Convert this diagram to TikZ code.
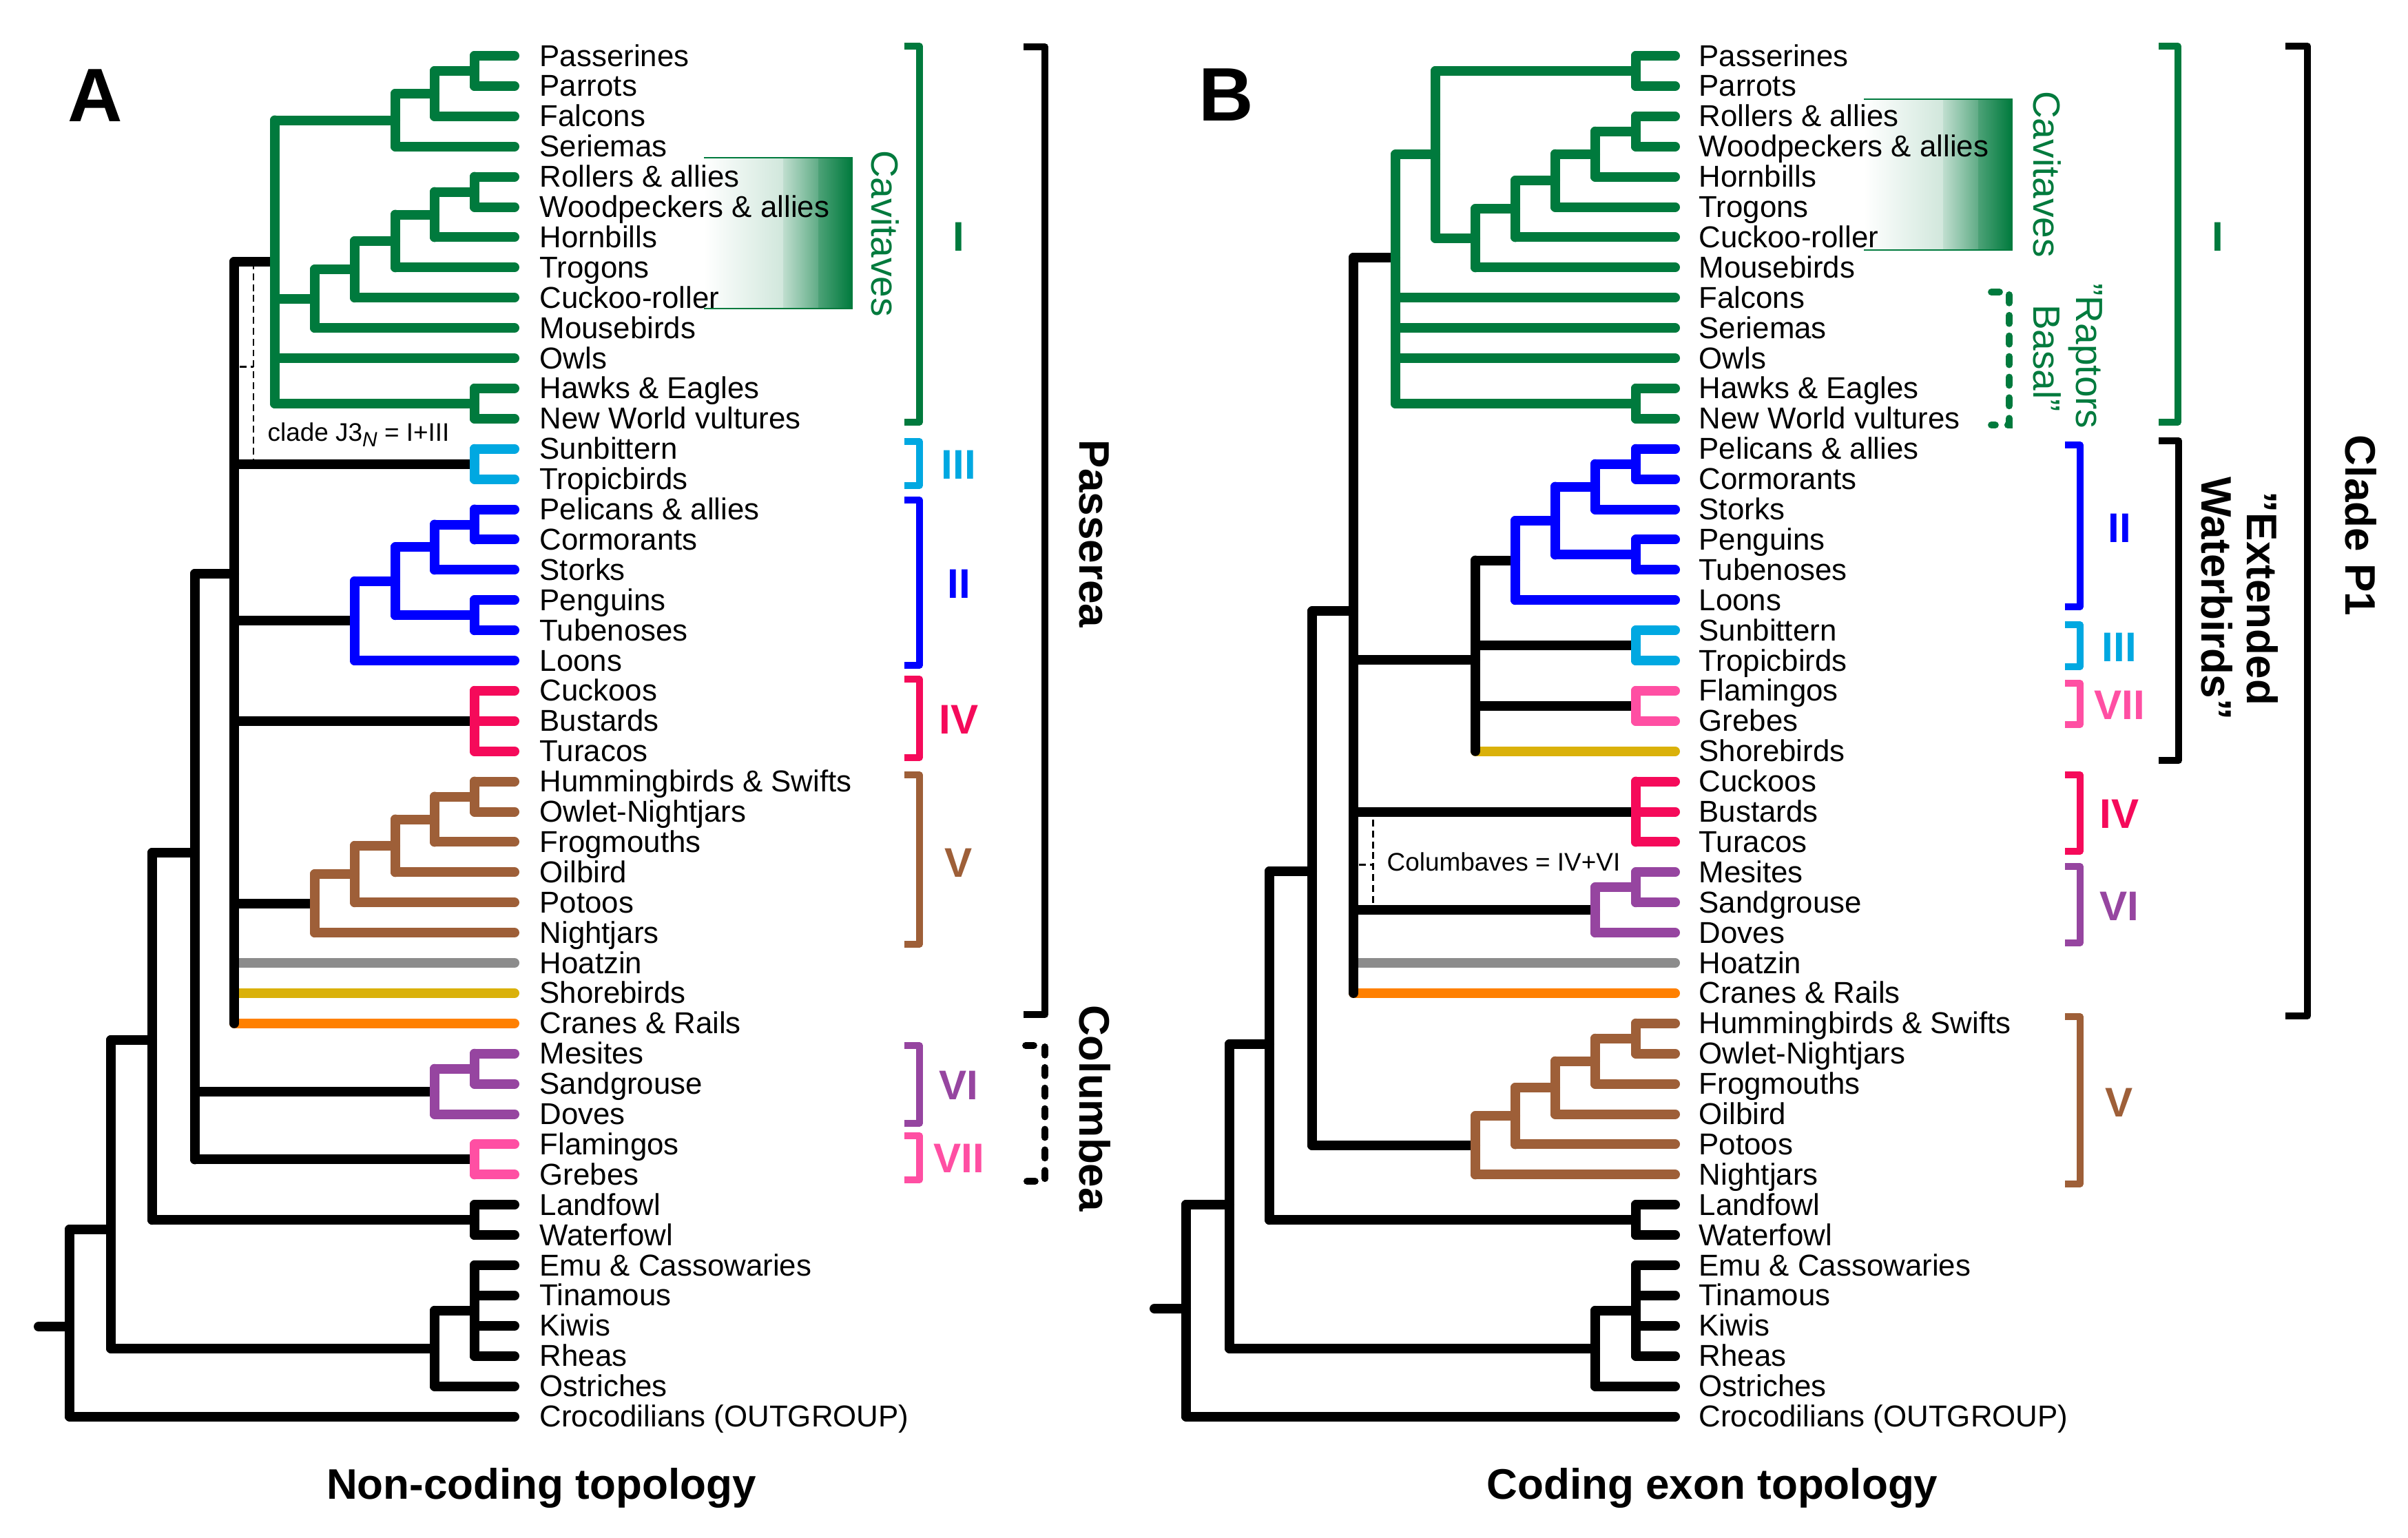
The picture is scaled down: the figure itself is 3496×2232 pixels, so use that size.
\documentclass[tikz,border=0pt]{standalone}
\usepackage{fontspec}
\setmainfont{Liberation Sans}
\definecolor{cI}{RGB}{0,122,61}
\definecolor{cII}{RGB}{0,0,255}
\definecolor{cIII}{RGB}{0,168,225}
\definecolor{cIV}{RGB}{245,10,90}
\definecolor{cV}{RGB}{158,95,56}
\definecolor{cVI}{RGB}{150,69,160}
\definecolor{cVII}{RGB}{255,79,163}
\definecolor{cHo}{RGB}{140,140,140}
\definecolor{cSh}{RGB}{218,177,10}
\definecolor{cCr}{RGB}{255,128,0}
\newcommand\hzs[3]{\foreach \c in {#3}{\draw[branch,#2] (#1 |- \c) -- (\c);}}
\newcommand\vt[4]{\draw[branch,#2] (#1 |- #3) -- (#1 |- #4);}
\newcommand\leaffont{\fontsize{12.46pt}{12.46pt}\selectfont}
\newcommand\cavfont{\fontsize{15.65pt}{15.65pt}\selectfont}
\newcommand\bigb{\fontsize{17.64pt}{17.64pt}\selectfont\bfseries}
\newcommand\romf{\fontsize{17.1pt}{17.1pt}\selectfont\bfseries}
\newcommand\smallf{\fontsize{10.5pt}{10.5pt}\selectfont}
\newcommand\qq{\symbol{34}}
\newcommand\cavbox[2]{%
  \shade[left color=white,right color=cI!18] (#1,#2) rectangle ({#1+115},{#2+219});
  \shade[left color=cI!25,right color=cI!62] ({#1+115},#2) rectangle ({#1+166},{#2+219});
  \shade[left color=cI!70,right color=cI] ({#1+166},#2) rectangle ({#1+215},{#2+219});
  \draw[cI,line width=0.8pt] (#1,#2) -- ({#1+215},#2) -- ({#1+215},{#2+219}) -- (#1,{#2+219});}
\begin{document}
\begin{tikzpicture}[x=0.01cm,y=-0.01cm,
  branch/.style={line width=3.98pt,line cap=round},
  brk/.style={line width=2.6pt,line join=round},
  dbrk/.style={line width=2.8pt,line cap=round,dash pattern=on 3.4pt off 5.1pt},
  note/.style={line width=0.85pt,dash pattern=on 2.8pt off 1.7pt},
  leaf/.style={anchor=base west,inner sep=0pt,font=\leaffont},
  roman/.style={inner sep=0pt,font=\romf},
  rot/.style={anchor=base,inner sep=0pt,rotate=-90},
  small/.style={anchor=base west,inner sep=0pt,font=\smallf}]
\useasboundingbox (0,0) rectangle (3496,2232);
\fill[white] (0,0) rectangle (3496,2232);
% gradient boxes
\cavbox{1022}{229}
\cavbox{2706}{144}
% ---------------- leaves A
\foreach \t [count=\i from 0] in {{Passerines},{Parrots},{Falcons},{Seriemas},{Rollers \& allies},{Woodpeckers \& allies},{Hornbills},{Trogons},{Cuckoo-roller},{Mousebirds},{Owls},{Hawks \& Eagles},{New World vultures},{Sunbittern},{Tropicbirds},{Pelicans \& allies},{Cormorants},{Storks},{Penguins},{Tubenoses},{Loons},{Cuckoos},{Bustards},{Turacos},{Hummingbirds \& Swifts},{Owlet-Nightjars},{Frogmouths},{Oilbird},{Potoos},{Nightjars},{Hoatzin},{Shorebirds},{Cranes \& Rails},{Mesites},{Sandgrouse},{Doves},{Flamingos},{Grebes},{Landfowl},{Waterfowl},{Emu \& Cassowaries},{Tinamous},{Kiwis},{Rheas},{Ostriches},{Crocodilians (OUTGROUP)}}
  {\coordinate (a\i) at (747,{81+43.9*\i});
   \node[leaf] (la\i) at (783,{96+43.9*\i}) {\t};}
% ---------------- leaves B
\foreach \t [count=\i from 0] in {{Passerines},{Parrots},{Rollers \& allies},{Woodpeckers \& allies},{Hornbills},{Trogons},{Cuckoo-roller},{Mousebirds},{Falcons},{Seriemas},{Owls},{Hawks \& Eagles},{New World vultures},{Pelicans \& allies},{Cormorants},{Storks},{Penguins},{Tubenoses},{Loons},{Sunbittern},{Tropicbirds},{Flamingos},{Grebes},{Shorebirds},{Cuckoos},{Bustards},{Turacos},{Mesites},{Sandgrouse},{Doves},{Hoatzin},{Cranes \& Rails},{Hummingbirds \& Swifts},{Owlet-Nightjars},{Frogmouths},{Oilbird},{Potoos},{Nightjars},{Landfowl},{Waterfowl},{Emu \& Cassowaries},{Tinamous},{Kiwis},{Rheas},{Ostriches},{Crocodilians (OUTGROUP)}}
  {\coordinate (b\i) at (2432,{81+43.9*\i});
   \node[leaf] (lb\i) at (2466,{96+43.9*\i}) {\t};}
% ---------------- internal nodes A
\coordinate (aPP) at (689,103);
\coordinate (aPPF) at (631,136);
\coordinate (aPPFS) at (574,174.5);
\coordinate (aRW) at (689,278.6);
\coordinate (aRWH) at (631,311.6);
\coordinate (aRWHT) at (574,350);
\coordinate (aRWHTC) at (515,391.2);
\coordinate (aCAV) at (457,433.6);
\coordinate (aHN) at (689,585.9);
\coordinate (aI) at (399,380);
\coordinate (aIII) at (689,673.6);
\coordinate (aPC) at (689,761.5);
\coordinate (aPCS) at (631,794.4);
\coordinate (aPT) at (689,893.2);
\coordinate (aPCSPT) at (574,843.8);
\coordinate (aII) at (515,901.4);
\coordinate (aIV) at (689,1046.8);
\coordinate (aHO) at (689,1156.5);
\coordinate (aHOF) at (631,1189.5);
\coordinate (aHOFO) at (574,1227.9);
\coordinate (aHOFOP) at (515,1269.1);
\coordinate (aV) at (457,1311.6);
\coordinate (aP) at (340,833);
\coordinate (aMS) at (689,1551.7);
\coordinate (aVI) at (631,1584.6);
\coordinate (aVII) at (689,1683.4);
\coordinate (aN1) at (283,1238);
\coordinate (aGAL) at (689,1771.2);
\coordinate (aN2) at (221,1510);
\coordinate (aRAT) at (689,1902.9);
\coordinate (aPAL) at (631,1957.7);
\coordinate (aN3) at (161,1785);
\coordinate (aROOT) at (101,1926);
\coordinate (aSTUB) at (56,1926);
% ---------------- internal nodes B
\coordinate (bPP) at (2375,103);
\coordinate (bRW) at (2375,190.8);
\coordinate (bRWH) at (2316,223.7);
\coordinate (bRWHT) at (2258,262.1);
\coordinate (bRWHTC) at (2200,303.3);
\coordinate (bCAV) at (2142,345.8);
\coordinate (bPPCAV) at (2084,224.4);
\coordinate (bHN) at (2375,585.9);
\coordinate (bI) at (2026,374);
\coordinate (bPC) at (2375,673.7);
\coordinate (bPCS) at (2316,706.6);
\coordinate (bPT) at (2375,805.4);
\coordinate (bPCSPT) at (2258,756);
\coordinate (bII) at (2200,813.6);
\coordinate (bIII) at (2375,937.1);
\coordinate (bVII) at (2375,1024.9);
\coordinate (bEW) at (2142,957.6);
\coordinate (bIV) at (2375,1178.5);
\coordinate (bMS) at (2375,1288.3);
\coordinate (bVI) at (2316,1321.2);
\coordinate (bP1) at (1965,887.4);
\coordinate (bHO) at (2375,1507.8);
\coordinate (bHOF) at (2316,1540.7);
\coordinate (bHOFO) at (2258,1579.1);
\coordinate (bHOFOP) at (2200,1620.3);
\coordinate (bV) at (2142,1662.8);
\coordinate (bN1) at (1905,1265);
\coordinate (bGAL) at (2375,1771.2);
\coordinate (bN2) at (1843,1516);
\coordinate (bRAT) at (2375,1902.9);
\coordinate (bPAL) at (2316,1957.7);
\coordinate (bN3) at (1785,1749);
\coordinate (bROOT) at (1722,1900);
\coordinate (bSTUB) at (1676,1900);
% ---------------- horizontals A
\hzs{aPP}{cI}{a0,a1}
\hzs{aPPF}{cI}{aPP,a2}
\hzs{aPPFS}{cI}{aPPF,a3}
\hzs{aRW}{cI}{a4,a5}
\hzs{aRWH}{cI}{aRW,a6}
\hzs{aRWHT}{cI}{aRWH,a7}
\hzs{aRWHTC}{cI}{aRWHT,a8}
\hzs{aCAV}{cI}{aRWHTC,a9}
\hzs{aHN}{cI}{a11,a12}
\hzs{aI}{cI}{aPPFS,aCAV,a10,aHN}
\hzs{aIII}{cIII}{a13,a14}
\hzs{aPC}{cII}{a15,a16}
\hzs{aPCS}{cII}{aPC,a17}
\hzs{aPT}{cII}{a18,a19}
\hzs{aPCSPT}{cII}{aPCS,aPT}
\hzs{aII}{cII}{aPCSPT,a20}
\hzs{aIV}{cIV}{a21,a22,a23}
\hzs{aHO}{cV}{a24,a25}
\hzs{aHOF}{cV}{aHO,a26}
\hzs{aHOFO}{cV}{aHOF,a27}
\hzs{aHOFOP}{cV}{aHOFO,a28}
\hzs{aV}{cV}{aHOFOP,a29}
\hzs{aP}{black}{aI,aIII,aII,aIV,aV}
\hzs{aP}{cHo}{a30}
\hzs{aP}{cSh}{a31}
\hzs{aP}{cCr}{a32}
\hzs{aMS}{cVI}{a33,a34}
\hzs{aVI}{cVI}{aMS,a35}
\hzs{aVII}{cVII}{a36,a37}
\hzs{aN1}{black}{aP,aVI,aVII}
\hzs{aGAL}{black}{a38,a39}
\hzs{aN2}{black}{aN1,aGAL}
\hzs{aRAT}{black}{a40,a41,a42,a43}
\hzs{aPAL}{black}{aRAT,a44}
\hzs{aN3}{black}{aN2,aPAL}
\hzs{aROOT}{black}{aN3,a45}
\draw[branch] (aSTUB) -- (aROOT);
% ---------------- horizontals B
\hzs{bPP}{cI}{b0,b1}
\hzs{bRW}{cI}{b2,b3}
\hzs{bRWH}{cI}{bRW,b4}
\hzs{bRWHT}{cI}{bRWH,b5}
\hzs{bRWHTC}{cI}{bRWHT,b6}
\hzs{bCAV}{cI}{bRWHTC,b7}
\hzs{bPPCAV}{cI}{bPP,bCAV}
\hzs{bHN}{cI}{b11,b12}
\hzs{bI}{cI}{bPPCAV,b8,b9,b10,bHN}
\hzs{bPC}{cII}{b13,b14}
\hzs{bPCS}{cII}{bPC,b15}
\hzs{bPT}{cII}{b16,b17}
\hzs{bPCSPT}{cII}{bPCS,bPT}
\hzs{bII}{cII}{bPCSPT,b18}
\hzs{bIII}{cIII}{b19,b20}
\hzs{bVII}{cVII}{b21,b22}
\hzs{bEW}{black}{bII,bIII,bVII}
\hzs{bEW}{cSh}{b23}
\hzs{bIV}{cIV}{b24,b25,b26}
\hzs{bMS}{cVI}{b27,b28}
\hzs{bVI}{cVI}{bMS,b29}
\hzs{bP1}{black}{bI,bEW,bIV,bVI}
\hzs{bP1}{cHo}{b30}
\hzs{bP1}{cCr}{b31}
\hzs{bHO}{cV}{b32,b33}
\hzs{bHOF}{cV}{bHO,b34}
\hzs{bHOFO}{cV}{bHOF,b35}
\hzs{bHOFOP}{cV}{bHOFO,b36}
\hzs{bV}{cV}{bHOFOP,b37}
\hzs{bN1}{black}{bP1,bV}
\hzs{bGAL}{black}{b38,b39}
\hzs{bN2}{black}{bN1,bGAL}
\hzs{bRAT}{black}{b40,b41,b42,b43}
\hzs{bPAL}{black}{bRAT,b44}
\hzs{bN3}{black}{bN2,bPAL}
\hzs{bROOT}{black}{bN3,b45}
\draw[branch] (bSTUB) -- (bROOT);
% ---------------- verticals A
\vt{aPP}{cI}{a0}{a1}
\vt{aPPF}{cI}{aPP}{a2}
\vt{aPPFS}{cI}{aPPF}{a3}
\vt{aRW}{cI}{a4}{a5}
\vt{aRWH}{cI}{aRW}{a6}
\vt{aRWHT}{cI}{aRWH}{a7}
\vt{aRWHTC}{cI}{aRWHT}{a8}
\vt{aCAV}{cI}{aRWHTC}{a9}
\vt{aHN}{cI}{a11}{a12}
\vt{aI}{cI}{aPPFS}{aHN}
\vt{aIII}{cIII}{a13}{a14}
\vt{aPC}{cII}{a15}{a16}
\vt{aPCS}{cII}{aPC}{a17}
\vt{aPT}{cII}{a18}{a19}
\vt{aPCSPT}{cII}{aPCS}{aPT}
\vt{aII}{cII}{aPCSPT}{a20}
\vt{aIV}{cIV}{a21}{a23}
\vt{aHO}{cV}{a24}{a25}
\vt{aHOF}{cV}{aHO}{a26}
\vt{aHOFO}{cV}{aHOF}{a27}
\vt{aHOFOP}{cV}{aHOFO}{a28}
\vt{aV}{cV}{aHOFOP}{a29}
\vt{aP}{black}{aI}{a32}
\vt{aMS}{cVI}{a33}{a34}
\vt{aVI}{cVI}{aMS}{a35}
\vt{aVII}{cVII}{a36}{a37}
\vt{aN1}{black}{aP}{aVII}
\vt{aGAL}{black}{a38}{a39}
\vt{aN2}{black}{aN1}{aGAL}
\vt{aRAT}{black}{a40}{a43}
\vt{aPAL}{black}{aRAT}{a44}
\vt{aN3}{black}{aN2}{aPAL}
\vt{aROOT}{black}{aN3}{a45}
% ---------------- verticals B
\vt{bPP}{cI}{b0}{b1}
\vt{bRW}{cI}{b2}{b3}
\vt{bRWH}{cI}{bRW}{b4}
\vt{bRWHT}{cI}{bRWH}{b5}
\vt{bRWHTC}{cI}{bRWHT}{b6}
\vt{bCAV}{cI}{bRWHTC}{b7}
\vt{bPPCAV}{cI}{bPP}{bCAV}
\vt{bHN}{cI}{b11}{b12}
\vt{bI}{cI}{bPPCAV}{bHN}
\vt{bPC}{cII}{b13}{b14}
\vt{bPCS}{cII}{bPC}{b15}
\vt{bPT}{cII}{b16}{b17}
\vt{bPCSPT}{cII}{bPCS}{bPT}
\vt{bII}{cII}{bPCSPT}{b18}
\vt{bIII}{cIII}{b19}{b20}
\vt{bVII}{cVII}{b21}{b22}
\vt{bEW}{black}{bII}{b23}
\vt{bIV}{cIV}{b24}{b26}
\vt{bMS}{cVI}{b27}{b28}
\vt{bVI}{cVI}{bMS}{b29}
\vt{bP1}{black}{bI}{b31}
\vt{bHO}{cV}{b32}{b33}
\vt{bHOF}{cV}{bHO}{b34}
\vt{bHOFO}{cV}{bHOF}{b35}
\vt{bHOFOP}{cV}{bHOFO}{b36}
\vt{bV}{cV}{bHOFOP}{b37}
\vt{bN1}{black}{bP1}{bV}
\vt{bGAL}{black}{b38}{b39}
\vt{bN2}{black}{bN1}{bGAL}
\vt{bRAT}{black}{b40}{b43}
\vt{bPAL}{black}{bRAT}{b44}
\vt{bN3}{black}{bN2}{bPAL}
\vt{bROOT}{black}{bN3}{b45}
% ---------------- dashed notes
\coordinate (jTop) at (368,381);
\coordinate (jBot) at (368,666);
\coordinate (jTick) at (348,532);
\draw[note] (jTop) -- (jBot);
\draw[note] (jTick) -- (jTick -| jTop);
\node[small] (j3) at (388,640) {clade J3\raisebox{-0.22em}{\fontsize{8.5pt}{8.5pt}\selectfont\itshape N} = I+III};
\coordinate (cTop) at (1993,1190);
\coordinate (cBot) at (1993,1317);
\coordinate (cTick) at (1973,1255);
\draw[note] (cTop) -- (cBot);
\draw[note] (cTick) -- (cTick -| cTop);
\node[small] (colbv) at (2013,1264) {Columbaves = IV+VI};
% ---------------- brackets A
\draw[brk,cI] (1313,67) -- (1335,67) -- (1335,613) -- (1313,613);
\draw[brk,cIII] (1313,641) -- (1335,641) -- (1335,705) -- (1313,705);
\draw[brk,cII] (1313,726) -- (1335,726) -- (1335,966) -- (1313,966);
\draw[brk,cIV] (1313,986) -- (1335,986) -- (1335,1100) -- (1313,1100);
\draw[brk,cV] (1313,1125) -- (1335,1125) -- (1335,1371) -- (1313,1371);
\draw[brk,cVI] (1313,1518) -- (1335,1518) -- (1335,1631) -- (1313,1631);
\draw[brk,cVII] (1313,1649) -- (1335,1649) -- (1335,1713) -- (1313,1713);
\node[roman,cI] (rAI) at (1392,344) {I};
\node[roman,cIII] (rAIII) at (1392,675) {III};
\node[roman,cII] (rAII) at (1392,848) {II};
\node[roman,cIV] (rAIV) at (1392,1045) {IV};
\node[roman,cV] (rAV) at (1392,1253) {V};
\node[roman,cVI] (rAVI) at (1392,1576) {VI};
\node[roman,cVII] (rAVII) at (1392,1682) {VII};
\draw[brk,line width=2.85pt] (1486,68) -- (1517,68) -- (1517,1473) -- (1486,1473);
\draw[dbrk] (1489,1518) -- (1517,1518) -- (1517,1715) -- (1489,1715);
\node[rot,font=\bigb] (passerea) at (1567,775) {Passerea};
\node[rot,font=\bigb] (columbea) at (1567,1609) {Columbea};
\node[rot,cI,font=\cavfont] (cavA) at (1265,339) {Cavitaves};
% ---------------- brackets B
\draw[brk,cI] (3134,67) -- (3162,67) -- (3162,613) -- (3134,613);
\draw[dbrk,cI] (2891,424) -- (2917,424) -- (2917,617) -- (2891,617);
\draw[brk,cII] (2998,646) -- (3020,646) -- (3020,881) -- (2998,881);
\draw[brk,cIII] (2998,907) -- (3020,907) -- (3020,968) -- (2998,968);
\draw[brk,cVII] (2998,992) -- (3020,992) -- (3020,1052) -- (2998,1052);
\draw[brk,cIV] (2998,1125) -- (3020,1125) -- (3020,1236) -- (2998,1236);
\draw[brk,cVI] (2998,1258) -- (3020,1258) -- (3020,1369) -- (2998,1369);
\draw[brk,cV] (2998,1476) -- (3020,1476) -- (3020,1719) -- (2998,1719);
\node[roman,cI] (rBI) at (3220,344) {I};
\node[roman,cII] (rBII) at (3077,767) {II};
\node[roman,cIII] (rBIII) at (3077,940) {III};
\node[roman,cVII] (rBVII) at (3077,1024) {VII};
\node[roman,cIV] (rBIV) at (3077,1182) {IV};
\node[roman,cVI] (rBVI) at (3077,1316) {VI};
\node[roman,cV] (rBV) at (3077,1601) {V};
\draw[brk,line width=2.85pt] (3134,640) -- (3163,640) -- (3163,1104) -- (3134,1104);
\draw[brk,line width=2.85pt] (3318,67) -- (3350,67) -- (3350,1475) -- (3318,1475);
\node[rot,cI,font=\cavfont] (cavB) at (2952,253) {Cavitaves};
\node[rot,cI,font=\cavfont] (rap1) at (3014,517) {\qq Raptors};
\node[rot,cI,font=\cavfont] (rap2) at (2952,520) {Basal\qq};
\node[rot,font=\bigb] (ew1) at (3262,869) {\qq Extended};
\node[rot,font=\bigb] (ew2) at (3196,869) {Waterbirds\qq};
\node[rot,font=\bigb] (cladeP1) at (3405,763) {Clade P1};
% ---------------- titles
\node[anchor=base,inner sep=0pt,font=\fontsize{31.3pt}{31.3pt}\selectfont\bfseries] (tA) at (138,176) {A};
\node[anchor=base,inner sep=0pt,font=\fontsize{31.3pt}{31.3pt}\selectfont\bfseries] (tB) at (1780,175) {B};
\node[anchor=base,inner sep=0pt,font=\bigb] (capA) at (786,2176) {Non-coding topology};
\node[anchor=base,inner sep=0pt,font=\bigb] (capB) at (2486,2176) {Coding exon topology};
\end{tikzpicture}
\end{document}
